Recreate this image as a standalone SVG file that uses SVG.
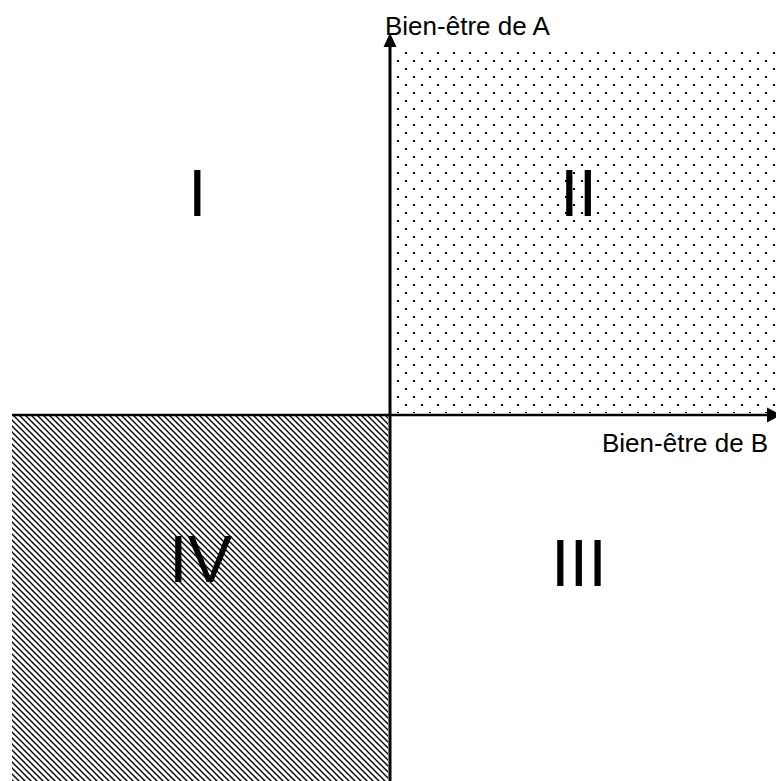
<svg xmlns="http://www.w3.org/2000/svg" width="776" height="781" viewBox="0 0 776 781">
  <style>
    .axis { stroke: #000; stroke-width: 3; fill: none; }
    .head { fill: #000; stroke: none; }
    .label { font-family: "Liberation Sans", Arial, sans-serif; font-size: 26px; fill: #000; }
    .num { font-family: "Liberation Sans", Arial, sans-serif; font-size: 67px; fill: #000; }
  </style>
  <defs>
    <pattern id="dots" patternUnits="userSpaceOnUse" x="0" y="0" width="16" height="16">
      <rect x="5" y="4" width="2" height="2" fill="#000"/>
      <rect x="13" y="12" width="2" height="2" fill="#000"/>
    </pattern>
    <pattern id="hatch" patternUnits="userSpaceOnUse" x="0" y="0" width="6" height="6">
      <path d="M-1,-1 L7,7 M-1,5 L1,7 M5,-1 L7,1" stroke="#000" stroke-width="1.4" fill="none"/>
    </pattern>
  </defs>
  <rect width="776" height="781" fill="#fff"/>

  <g id="quadrant-II">
    <rect x="392" y="47" width="384" height="366" fill="url(#dots)"/>
    <text class="num" x="560" y="216">II</text>
  </g>
  <g id="quadrant-IV">
    <rect x="12" y="416" width="376" height="365" fill="url(#hatch)"/>
    <text class="num" x="169" y="582">IV</text>
  </g>
  <g id="quadrant-I">
    <text class="num" x="188" y="216">I</text>
  </g>
  <g id="quadrant-III">
    <text class="num" x="551" y="586">III</text>
  </g>

  <g id="connectors">
    <line class="axis" x1="390" y1="781" x2="390" y2="45"/>
    <polygon class="head" points="390,33 383.5,47 396.5,47"/>
    <line class="axis" x1="12" y1="415" x2="768" y2="415" style="stroke-width:2.5"/>
    <polygon class="head" points="781,415 767,407.5 767,422.5"/>
  </g>

  <g id="label-A">
    <text class="label" x="385" y="35">Bien-être de A</text>
  </g>
  <g id="label-B">
    <text class="label" x="602" y="452">Bien-être de B</text>
  </g>
</svg>
